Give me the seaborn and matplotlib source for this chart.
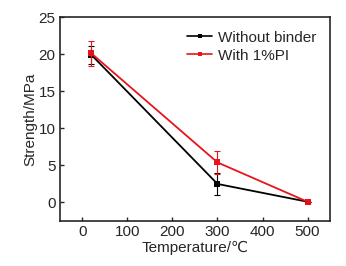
import numpy as np
import pandas as pd
import matplotlib
matplotlib.use("Agg")
import matplotlib.pyplot as plt
import seaborn as sns

# data
temps = [20, 300, 500]
no_binder = [19.9, 2.5, 0.1]
no_binder_err = [1.25, 1.5, 0.0]
with_pi = [20.1, 5.4, 0.1]
with_pi_err = [1.7, 1.5, 0.0]
series_names = ["Without binder", "With 1%PI"]
series_colors = ["black", "#e8141b"]

sns.set_style("ticks")
plt.rcParams['font.family'] = ['Liberation Sans', 'DejaVu Sans']

df = pd.DataFrame({
    "Temperature": temps * 2,
    "Strength": no_binder + with_pi,
    "err": no_binder_err + with_pi_err,
    "series": [series_names[0]] * 3 + [series_names[1]] * 3,
})

fig = plt.figure(figsize=(3.46, 2.66), dpi=100)
ax = fig.add_axes([0.173, 0.169, 0.781, 0.767])

sns.lineplot(data=df, x="Temperature", y="Strength", hue="series",
             palette=series_colors, marker="s", markersize=4,
             markeredgewidth=0, linewidth=1.3, ax=ax)

for name, col in zip(series_names, series_colors):
    sub = df[df.series == name]
    ax.errorbar(sub.Temperature, sub.Strength, yerr=sub.err, fmt="none",
                ecolor=col, elinewidth=0.8, capsize=2.5, capthick=0.8)

ax.set_xlim(-50, 550)
ax.set_ylim(-2.5, 25)
ax.set_xticks([0, 100, 200, 300, 400, 500])
ax.set_yticks([0, 5, 10, 15, 20, 25])
ax.tick_params(direction="in", length=3, width=1, labelsize=11, pad=3)
for s in ax.spines.values():
    s.set_linewidth(1.2)
    s.set_visible(True)

ax.set_xlabel("Temperature/\u2103", fontsize=11, labelpad=1)
ax.set_ylabel("Strength/MPa", fontsize=11, labelpad=1)

leg = ax.legend(frameon=False, loc="upper right", fontsize=11,
                handlelength=1.6, handletextpad=0.4, labelspacing=0.25,
                borderaxespad=0.5)
for h in leg.legend_handles:
    h.set_markersize(3)
    h.set_linewidth(1.2)
leg.set_title(None)

fig.savefig("out.png", dpi=100)
